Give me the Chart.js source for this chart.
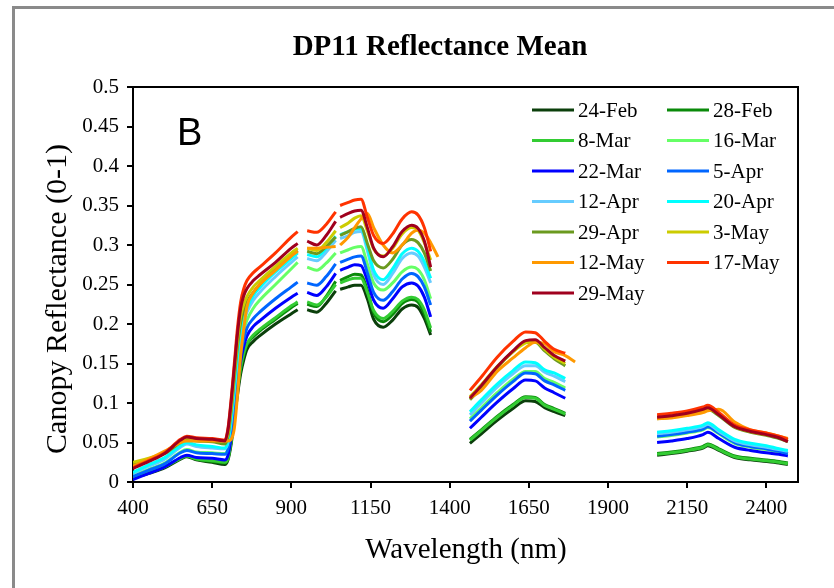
<!DOCTYPE html>
<html>
<head>
<meta charset="utf-8">
<script src="https://cdn.jsdelivr.net/npm/chart.js@4.4.1/dist/chart.umd.min.js"></script>
<style>
  html, body { margin: 0; padding: 0; background: #fff; }
  #wrap { position: relative; width: 834px; height: 588px; overflow: hidden; }
  #frame { position: absolute; left: 12px; top: 6px; width: 830px; height: 590px;
           border-left: 3px solid #8a8a8a; border-top: 3px solid #8a8a8a; box-sizing: border-box; }
  canvas { position: absolute; left: 0; top: 0; }
</style>
</head>
<body>
<div id="wrap">
  <div id="frame"></div>
  <canvas id="c" width="834" height="588"></canvas>
</div>
<script>
// ---------- DATA ----------
const chartTitle = "DP11 Reflectance Mean";
const panelLabel = "B";
const xTitle = "Wavelength (nm)";
const yTitle = "Canopy Reflectance (0-1)";
const xTicks = [400, 650, 900, 1150, 1400, 1650, 1900, 2150, 2400];
const yTicks = [0, 0.05, 0.1, 0.15, 0.2, 0.25, 0.3, 0.35, 0.4, 0.45, 0.5];
const dates = ["24-Feb","28-Feb","8-Mar","16-Mar","22-Mar","5-Apr","12-Apr","20-Apr","29-Apr","3-May","12-May","17-May","29-May"];
const colors = ["#0b3f0b","#0a8a0a","#33cc33","#66ff66","#0000ff","#0066ff","#66ccff","#00ffff","#6b9a1f","#cccc00","#ff9900","#ff3300","#a0001e"];

// wavelengths (nm); null values in the series mark the water-absorption gaps
const wavelengths = [400,450,500,550,570,600,650,690,
  700,710,720,730,740,750,760,
  780,800,850,900,920,
  935,
  950,980,1010,1040,
  1047,
  1054,1080,1100,1120,1140,1160,1190,1220,1250,1280,1300,1320,1340,
  1363,
  1400,
  1464,1500,1550,1600,1640,1670,1700,1730,1765,
  1796,
  1900,
  2055,2100,2150,2200,2215,2250,2300,2350,2400,2440,2468];

const feb24 = [0.005,0.011,0.018,0.029,0.032,0.028,0.025,0.022,
  0.028,0.048,0.080,0.110,0.137,0.155,0.168,
  0.178,0.185,0.200,0.213,0.218, null,
  0.218,0.215,0.226,0.242, null,
  0.244,0.247,0.249,0.249,0.232,0.206,0.196,0.205,0.219,0.224,0.221,0.207,0.186,
  null, null,
  0.049,0.061,0.078,0.093,0.103,0.102,0.094,0.089,0.084,
  null, null,
  0.034,0.036,0.039,0.043,0.046,0.040,0.031,0.028,0.026,0.024,0.022];
const feb28 = [0.006,0.012,0.019,0.030,0.033,0.029,0.026,0.024,
  0.030,0.052,0.084,0.116,0.143,0.161,0.174,
  0.184,0.191,0.206,0.221,0.226, null,
  0.225,0.222,0.235,0.254, null,
  0.255,0.260,0.263,0.262,0.243,0.214,0.203,0.212,0.226,0.231,0.228,0.213,0.190,
  null, null,
  0.054,0.066,0.083,0.098,0.108,0.107,0.098,0.093,0.087,
  null, null,
  0.036,0.038,0.041,0.045,0.048,0.042,0.033,0.030,0.028,0.026,0.024];
const mar8 = [0.006,0.012,0.019,0.030,0.033,0.029,0.027,0.025,
  0.030,0.052,0.085,0.117,0.145,0.163,0.175,
  0.186,0.193,0.208,0.223,0.228, null,
  0.228,0.224,0.234,0.250, null,
  0.252,0.256,0.258,0.258,0.240,0.217,0.207,0.216,0.229,0.234,0.231,0.218,0.195,
  null, null,
  0.053,0.065,0.082,0.097,0.107,0.106,0.097,0.092,0.086,
  null, null,
  0.035,0.037,0.040,0.044,0.047,0.041,0.032,0.029,0.027,0.025,0.023];
const mar16 = [0.008,0.016,0.024,0.038,0.041,0.038,0.037,0.036,
  0.043,0.068,0.105,0.143,0.172,0.192,0.205,
  0.220,0.230,0.250,0.270,0.278, null,
  0.272,0.268,0.277,0.290, null,
  0.290,0.294,0.297,0.298,0.276,0.252,0.243,0.252,0.266,0.272,0.269,0.256,0.232,
  null, null,
  0.080,0.094,0.113,0.130,0.140,0.140,0.131,0.126,0.119,
  null, null,
  0.057,0.059,0.062,0.066,0.069,0.061,0.049,0.044,0.041,0.038,0.036];
const mar22 = [0.003,0.011,0.019,0.031,0.034,0.031,0.030,0.028,
  0.034,0.057,0.092,0.125,0.153,0.172,0.185,
  0.197,0.204,0.220,0.234,0.239, null,
  0.240,0.236,0.247,0.264, null,
  0.268,0.272,0.275,0.274,0.255,0.230,0.220,0.232,0.247,0.252,0.248,0.234,0.209,
  null, null,
  0.068,0.082,0.101,0.118,0.129,0.128,0.119,0.113,0.106,
  null, null,
  0.050,0.052,0.055,0.060,0.063,0.055,0.044,0.040,0.037,0.035,0.033];
const apr5 = [0.007,0.015,0.023,0.037,0.040,0.037,0.036,0.035,
  0.042,0.065,0.100,0.135,0.163,0.181,0.195,
  0.207,0.215,0.232,0.247,0.253, null,
  0.252,0.249,0.260,0.276, null,
  0.278,0.282,0.285,0.286,0.265,0.240,0.230,0.241,0.257,0.264,0.260,0.247,0.224,
  null, null,
  0.077,0.091,0.110,0.127,0.138,0.137,0.128,0.123,0.116,
  null, null,
  0.058,0.060,0.063,0.067,0.070,0.062,0.050,0.045,0.042,0.039,0.036];
const apr12 = [0.011,0.020,0.029,0.044,0.048,0.045,0.043,0.042,
  0.050,0.077,0.116,0.155,0.185,0.203,0.215,
  0.230,0.240,0.260,0.278,0.285, null,
  0.283,0.280,0.291,0.306, null,
  0.308,0.312,0.316,0.317,0.293,0.262,0.250,0.264,0.283,0.290,0.286,0.272,0.252,
  null, null,
  0.085,0.100,0.120,0.137,0.147,0.147,0.139,0.134,0.127,
  null, null,
  0.061,0.063,0.066,0.070,0.073,0.064,0.052,0.047,0.044,0.041,0.039];
const apr20 = [0.012,0.022,0.031,0.046,0.050,0.047,0.045,0.043,
  0.052,0.080,0.120,0.160,0.190,0.208,0.220,
  0.236,0.246,0.266,0.283,0.290, null,
  0.288,0.285,0.296,0.311, null,
  0.313,0.317,0.320,0.321,0.298,0.268,0.256,0.270,0.289,0.296,0.292,0.279,0.258,
  null, null,
  0.089,0.104,0.124,0.141,0.152,0.151,0.142,0.138,0.131,
  null, null,
  0.063,0.065,0.068,0.072,0.075,0.066,0.054,0.049,0.046,0.042,0.040];
const apr29 = [0.022,0.028,0.036,0.050,0.054,0.052,0.051,0.048,
  0.058,0.090,0.132,0.172,0.202,0.218,0.228,
  0.240,0.250,0.270,0.287,0.293, null,
  0.292,0.289,0.298,0.310, null,
  0.312,0.317,0.321,0.323,0.302,0.280,0.271,0.282,0.300,0.307,0.303,0.290,0.267,
  null, null,
  0.104,0.120,0.145,0.165,0.177,0.177,0.166,0.156,0.147,
  null, null,
  0.080,0.082,0.085,0.090,0.092,0.084,0.069,0.063,0.059,0.055,0.051];
const may3 = [0.025,0.030,0.038,0.052,0.056,0.054,0.053,0.052,
  0.062,0.095,0.138,0.180,0.210,0.225,0.235,
  0.247,0.255,0.273,0.290,0.296, null,
  0.296,0.293,0.303,0.318, null,
  0.322,0.328,0.334,0.337,0.318,0.295,0.286,0.296,0.314,0.322,0.319,0.303,0.281,
  null, null,
  0.108,0.123,0.146,0.165,0.176,0.178,0.168,0.158,0.150,
  null, null,
  0.082,0.083,0.086,0.091,0.093,0.086,0.070,0.064,0.060,0.057,0.053];
const may12 = [0.020,0.029,0.039,0.050,0.052,0.052,0.052,0.052,
  0.052,0.054,0.068,0.110,0.160,0.195,0.222,
  0.240,0.250,0.268,0.286,0.292, null,
  0.296,0.296,0.297,0.298, null,
  0.300,0.310,0.322,0.333,0.340,0.322,0.300,0.290,0.300,0.315,0.319,0.315,0.303,
  0.285, null,
  0.106,0.116,0.140,0.157,0.170,0.177,0.175,0.165,0.160,
  0.152, null,
  0.080,0.081,0.084,0.088,0.090,0.092,0.076,0.066,0.062,0.058,0.055];
const may17 = [0.018,0.027,0.037,0.054,0.058,0.056,0.055,0.053,
  0.068,0.105,0.150,0.195,0.228,0.245,0.255,
  0.265,0.272,0.290,0.310,0.317, null,
  0.318,0.316,0.326,0.342, null,
  0.350,0.354,0.357,0.358,0.335,0.312,0.302,0.314,0.333,0.342,0.338,0.322,0.292,
  null, null,
  0.116,0.133,0.158,0.178,0.190,0.189,0.178,0.168,0.163,
  null, null,
  0.085,0.087,0.090,0.095,0.097,0.088,0.072,0.066,0.062,0.058,0.054];
const may29 = [0.017,0.026,0.036,0.053,0.057,0.055,0.054,0.052,
  0.066,0.102,0.145,0.188,0.220,0.236,0.245,
  0.255,0.262,0.278,0.296,0.302, null,
  0.305,0.300,0.312,0.330, null,
  0.335,0.340,0.343,0.344,0.322,0.296,0.285,0.298,0.317,0.325,0.321,0.305,0.272,
  null, null,
  0.106,0.122,0.146,0.166,0.179,0.180,0.170,0.160,0.153,
  null, null,
  0.082,0.084,0.087,0.092,0.094,0.085,0.070,0.064,0.060,0.056,0.051];

const seriesValues = [feb24, feb28, mar8, mar16, mar22, apr5, apr12, apr20, apr29, may3, may12, may17, may29];

// ---------- CHART ----------
const SERIF = '"Liberation Serif", "Times New Roman", serif';
const N = dates.length;
const datasets = dates.map((d, i) => ({
  label: d,
  data: wavelengths.map((w, k) => ({ x: w, y: seriesValues[i][k] })),
  borderColor: colors[i],
  backgroundColor: colors[i],
  borderWidth: 3,
  pointRadius: 0,
  pointHoverRadius: 0,
  spanGaps: false,
  cubicInterpolationMode: 'monotone',
  fill: false,
  order: N - i
}));

const decorPlugin = {
  id: 'decor',
  afterDraw(chart) {
    const ctx = chart.ctx;
    const a = chart.chartArea;
    ctx.save();
    // frame top & right
    ctx.strokeStyle = '#000';
    ctx.lineWidth = 2;
    ctx.beginPath();
    ctx.moveTo(a.left, a.top);
    ctx.lineTo(a.right, a.top);
    ctx.lineTo(a.right, a.bottom);
    ctx.stroke();

    // title
    ctx.fillStyle = '#000';
    ctx.textAlign = 'center';
    ctx.textBaseline = 'middle';
    ctx.font = 'bold 29px ' + SERIF;
    ctx.fillText(chartTitle, 440, 48);

    // panel label
    ctx.textAlign = 'left';
    ctx.textBaseline = 'alphabetic';
    ctx.font = '38px "Liberation Sans", Arial, sans-serif';
    ctx.fillText(panelLabel, 177, 145);

    // x title
    ctx.textAlign = 'center';
    ctx.textBaseline = 'middle';
    ctx.font = '29px ' + SERIF;
    ctx.fillText(xTitle, 466, 550);

    // y title
    ctx.save();
    ctx.translate(58, 299);
    ctx.rotate(-Math.PI / 2);
    ctx.font = '30px ' + SERIF;
    ctx.fillText(yTitle, 0, 0);
    ctx.restore();

    // legend (2 columns)
    ctx.font = '21px ' + SERIF;
    ctx.textAlign = 'left';
    ctx.textBaseline = 'middle';
    dates.forEach((d, i) => {
      const col = i % 2, row = Math.floor(i / 2);
      const x0 = col === 0 ? 532 : 667;
      const y = 110 + row * 30.5;
      ctx.strokeStyle = colors[i];
      ctx.lineWidth = 3;
      ctx.beginPath();
      ctx.moveTo(x0, y);
      ctx.lineTo(x0 + 42, y);
      ctx.stroke();
      ctx.fillStyle = '#000';
      ctx.fillText(d, x0 + 46, y + 1);
    });
    ctx.restore();
  }
};

new Chart(document.getElementById('c'), {
  type: 'line',
  data: { datasets },
  options: {
    responsive: false,
    animation: false,
    devicePixelRatio: 1,
    layout: { padding: { left: 0, top: 87, right: 36, bottom: 0 } },
    plugins: { legend: { display: false }, title: { display: false }, tooltip: { enabled: false } },
    scales: {
      x: {
        type: 'linear',
        min: 400, max: 2500,
        afterBuildTicks: (s) => { s.ticks = xTicks.map(v => ({ value: v })); },
        afterFit: (s) => { s.height = 106; },
        ticks: { color: '#000', font: { family: SERIF, size: 21 }, padding: 8, maxRotation: 0,
                 callback: (v) => String(v) },
        grid: { display: true, drawOnChartArea: false, drawTicks: true, tickLength: 6, color: '#000', lineWidth: 2 },
        border: { display: true, color: '#000', width: 2 }
      },
      y: {
        type: 'linear',
        min: 0, max: 0.5,
        afterBuildTicks: (s) => { s.ticks = yTicks.map(v => ({ value: v })); },
        afterFit: (s) => { s.width = 133; },
        ticks: { color: '#000', font: { family: SERIF, size: 21 }, padding: 8,
                 callback: (v) => String(+Number(v).toFixed(2)) },
        grid: { display: true, drawOnChartArea: false, drawTicks: true, tickLength: 6, color: '#000', lineWidth: 2 },
        border: { display: true, color: '#000', width: 2 }
      }
    }
  },
  plugins: [decorPlugin]
});
</script>
</body>
</html>
